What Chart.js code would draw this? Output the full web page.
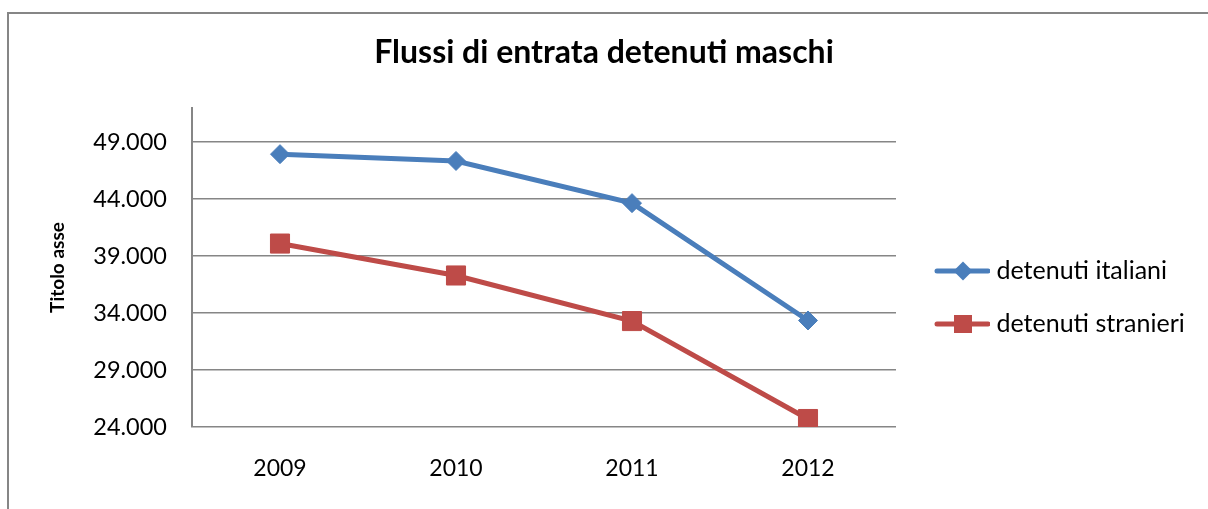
<!DOCTYPE html>
<html lang="it">
<head>
    <meta charset="UTF-8">
    <title>Flussi di entrata detenuti maschi</title>
    <script src="https://cdn.jsdelivr.net/npm/chart.js"></script>
    <style>
        html, body { margin: 0; padding: 0; background: #fff; }
    </style>
</head>
<body>
    <canvas id="chart" width="1208" height="509"></canvas>
    <script>
        // dati
        const anni = ['2009', '2010', '2011', '2012'];
        const italiani = [47950, 47350, 43650, 33350];
        const stranieri = [40100, 37300, 33300, 24700];
        const yTicks = [24000, 29000, 34000, 39000, 44000, 49000];
        const yMin = 24000;
        const yMax = 52000;

        const blu = '#4A7EBB';
        const rosso = '#BE4B48';
        const grigio = '#868686';

        Chart.defaults.font.family = 'Lato, "Open Sans", sans-serif';
        Chart.defaults.color = '#000';

        function formatta(v) {
            return String(v).replace(/\B(?=(\d{3})+(?!\d))/g, '.');
        }

        // icona legenda: linea con marcatore
        function iconaLegenda(colore, forma) {
            const c = document.createElement('canvas');
            c.width = 72;
            c.height = 24;
            const g = c.getContext('2d');
            g.strokeStyle = colore;
            g.fillStyle = colore;
            g.lineWidth = 5;
            g.lineCap = 'round';
            g.beginPath();
            g.moveTo(19, 12);
            g.lineTo(70, 12);
            g.stroke();
            g.beginPath();
            if (forma === 'rombo') {
                g.moveTo(45, 2.5);
                g.lineTo(54.5, 12);
                g.lineTo(45, 21.5);
                g.lineTo(35.5, 12);
                g.closePath();
            } else {
                g.rect(36, 3, 18, 18);
            }
            g.fill();
            return c;
        }
        const icone = [iconaLegenda(blu, 'rombo'), iconaLegenda(rosso, 'quadrato')];

        // cornice del grafico
        const cornice = {
            id: 'cornice',
            beforeDraw(chart) {
                const ctx = chart.ctx;
                ctx.save();
                ctx.strokeStyle = grigio;
                ctx.lineWidth = 2;
                ctx.strokeRect(8, 13, 1400, 700);
                ctx.restore();
            }
        };

        // larghezza fissa della legenda
        const legendaFissa = {
            id: 'legendaFissa',
            beforeLayout(chart) {
                const lg = chart.legend;
                if (lg && !lg._fissa) {
                    const fit = lg.fit;
                    lg.fit = function () {
                        fit.call(this);
                        this.width = 312;
                    };
                    lg._fissa = true;
                }
            }
        };

        new Chart(document.getElementById('chart'), {
            type: 'line',
            data: {
                labels: anni,
                datasets: [{
                    label: 'detenuti italiani',
                    data: italiani,
                    borderColor: blu,
                    backgroundColor: blu,
                    borderWidth: 5,
                    pointStyle: 'rectRot',
                    pointRadius: 9.5,
                    pointBorderWidth: 1,
                    tension: 0
                }, {
                    label: 'detenuti stranieri',
                    data: stranieri,
                    borderColor: rosso,
                    backgroundColor: rosso,
                    borderWidth: 5,
                    pointStyle: 'rect',
                    pointRadius: 13.5,
                    pointBorderWidth: 1,
                    tension: 0
                }]
            },
            options: {
                responsive: false,
                animation: false,
                layout: { padding: 0 },
                plugins: {
                    title: {
                        display: true,
                        text: 'Flussi di entrata detenuti maschi',
                        font: { size: 32, weight: 'bold' },
                        color: '#000',
                        padding: { top: 33, bottom: 36.6 }
                    },
                    legend: {
                        position: 'right',
                        title: {
                            display: true,
                            text: '',
                            font: { size: 12 },
                            padding: { top: 71.6, bottom: 0 }
                        },
                        labels: {
                            usePointStyle: true,
                            pointStyleWidth: 60,
                            padding: 28,
                            font: { size: 25 },
                            color: '#000',
                            generateLabels(chart) {
                                return chart.data.datasets.map((ds, i) => ({
                                    text: ds.label,
                                    pointStyle: icone[i],
                                    fillStyle: ds.borderColor,
                                    strokeStyle: ds.borderColor,
                                    lineWidth: 0,
                                    datasetIndex: i,
                                    hidden: false
                                }));
                            }
                        }
                    },
                    tooltip: { enabled: false }
                },
                scales: {
                    x: {
                        offset: true,
                        grid: { display: false },
                        border: { display: false },
                        ticks: { padding: 20, font: { size: 23 }, color: '#000' },
                        afterFit(scale) { scale.height = 82; }
                    },
                    y: {
                        min: yMin,
                        max: yMax,
                        ticks: {
                            padding: 25,
                            font: { size: 23.5 },
                            color: '#000',
                            callback: v => formatta(v)
                        },
                        afterBuildTicks(scale) {
                            scale.ticks = yTicks.map(v => ({ value: v }));
                        },
                        grid: { color: grigio, lineWidth: 1.5, drawTicks: false },
                        border: { display: true, color: grigio, width: 2 },
                        title: {
                            display: true,
                            text: 'Titolo asse',
                            font: { size: 19, weight: 'bold' },
                            color: '#000',
                            padding: { top: 46.6, bottom: 0 }
                        },
                        afterFit(scale) { scale.width = 192; }
                    }
                }
            },
            plugins: [cornice, legendaFissa]
        });
    </script>
</body>
</html>
